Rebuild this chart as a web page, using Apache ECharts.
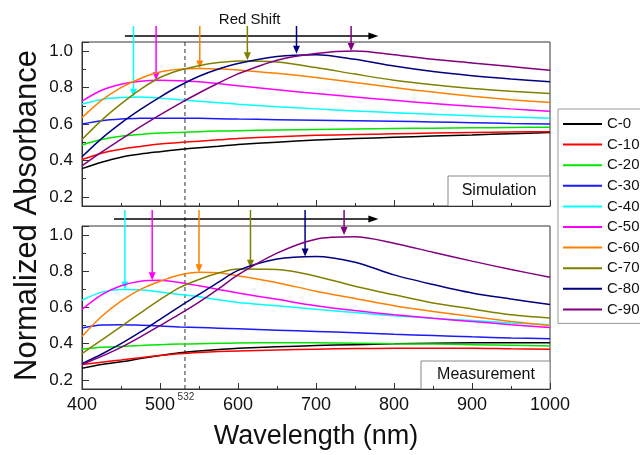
<!DOCTYPE html>
<html>
<head>
<meta charset="utf-8">
<script src="https://cdn.jsdelivr.net/npm/echarts@6/dist/echarts.min.js"></script>
<style>
html,body{margin:0;padding:0;background:#fff;}
#main{width:640px;height:455px;}
</style>
</head>
<body>
<div id="main"></div>
<script>
// 波长 (nm)
var wavelength=[400,425,450,475,500,525,550,575,600,650,700,750,800,850,900,950,1000];
var names=['C-0','C-10','C-20','C-30','C-40','C-50','C-60','C-70','C-80','C-90'];
var colors=['#000000','#ff0000','#00e600','#1a1aff','#00ffff','#ff00ff','#ff8000','#808000','#000080','#800080'];

// Simulation
var simC0 =[.355,.39,.418,.435,.448,.46,.47,.478,.487,.50,.512,.52,.527,.534,.54,.547,.553];
var simC10=[.405,.44,.462,.477,.49,.498,.506,.513,.52,.53,.538,.542,.546,.55,.553,.556,.558];
var simC20=[.485,.515,.533,.543,.55,.554,.558,.561,.563,.567,.57,.573,.575,.577,.579,.581,.582];
var simC30=[.60,.618,.627,.631,.632,.632,.631,.629,.627,.624,.621,.618,.615,.611,.607,.603,.60];
var simC40=[.71,.735,.745,.748,.742,.733,.725,.717,.708,.695,.683,.672,.662,.653,.645,.638,.632];
var simC50=[.725,.785,.818,.835,.84,.838,.832,.822,.81,.788,.767,.748,.73,.712,.697,.683,.67];
var simC60=[.635,.73,.80,.85,.885,.90,.905,.902,.897,.878,.855,.828,.80,.775,.752,.733,.718];
var simC70=[.515,.62,.71,.79,.855,.895,.92,.937,.946,.94,.91,.874,.84,.815,.795,.78,.768];
var simC80=[.42,.52,.605,.68,.748,.81,.862,.902,.932,.97,.98,.955,.918,.888,.865,.847,.832];
var simC90=[.37,.445,.515,.585,.65,.712,.77,.825,.875,.95,.987,1.0,.98,.955,.935,.915,.895];

// Measurement
var measC0 =[.265,.285,.30,.318,.335,.35,.36,.368,.375,.383,.39,.395,.40,.403,.405,.405,.405];
var measC10=[.285,.298,.31,.323,.335,.345,.352,.357,.36,.365,.37,.373,.375,.375,.375,.372,.37];
var measC20=[.37,.38,.385,.39,.395,.398,.40,.402,.404,.405,.405,.403,.40,.398,.395,.392,.388];
var measC30=[.487,.503,.505,.502,.498,.493,.49,.486,.482,.475,.468,.46,.452,.445,.438,.432,.427];
var measC40=[.64,.685,.70,.698,.685,.672,.66,.643,.628,.61,.59,.572,.555,.54,.528,.515,.505];
var measC50=[.59,.67,.72,.745,.75,.738,.72,.70,.68,.645,.61,.583,.56,.54,.523,.505,.49];
var measC60=[.44,.55,.635,.70,.745,.78,.795,.792,.775,.737,.69,.65,.61,.578,.55,.523,.50];
var measC70=[.345,.42,.495,.57,.643,.71,.755,.79,.812,.81,.773,.717,.67,.625,.592,.56,.542];
var measC80=[.29,.342,.40,.465,.535,.605,.672,.74,.805,.868,.882,.85,.78,.727,.68,.647,.616];
var measC90=[.285,.33,.38,.438,.50,.563,.63,.703,.78,.9,.977,.99,.955,.905,.856,.81,.767];

// 峰位箭头
var simPeakWl=[466,495,551,612,675,745];
var simPeakVal=[.75,.84,.905,.95,.985,1.0];
var measPeakWl=[455,490,550,616,686,736];
var measPeakVal=[.70,.75,.795,.82,.882,1.0];
var peakColorIdx=[4,5,6,7,8,9];
var simShift=[455,780];
var measShift=[441,780];
var markWl=532;

var simAll=[simC0,simC10,simC20,simC30,simC40,simC50,simC60,simC70,simC80,simC90];
var measAll=[measC0,measC10,measC20,measC30,measC40,measC50,measC60,measC70,measC80,measC90];

var font='Arial, "Liberation Sans", sans-serif';
var myChart=echarts.init(document.getElementById('main'));

function pairs(arr){
    var out=[];
    for(var i=0;i<wavelength.length;i++){
        out.push([wavelength[i],arr[i]]);
    }
    return out;
};

function xAxisOpt(idx,showLabel,name){
    return {
        type:'value',gridIndex:idx,min:400,max:1000,interval:100,
        axisLine:{show:true,onZero:false,lineStyle:{color:'#333',width:1}},
        axisTick:{show:true,inside:true,length:6,lineStyle:{color:'#333'}},
        minorTick:{show:true,splitNumber:2,length:3,lineStyle:{color:'#333'}},
        splitLine:{show:false},
        axisLabel:{show:showLabel,fontSize:18,color:'#111',margin:7,fontFamily:font,
            formatter:function(v){return String(v);}},
        name:name,nameLocation:'middle',nameGap:34,
        nameTextStyle:{fontSize:27,color:'#111',fontFamily:font}
    };
};
function yAxisOpt(idx){
    return {
        type:'value',gridIndex:idx,min:0.15,max:1.05,splitNumber:5,
        axisLine:{show:true,onZero:false,lineStyle:{color:'#333',width:1}},
        axisTick:{show:true,inside:true,length:7,lineStyle:{color:'#333'}},
        minorTick:{show:true,splitNumber:2,length:4,lineStyle:{color:'#333'}},
        splitLine:{show:false},
        axisLabel:{fontSize:17,color:'#111',margin:9,fontFamily:font,showMinLabel:false,showMaxLabel:false,
            formatter:function(v){return v.toFixed(1);}}
    };
};

var series=[];
for(var i=0;i<names.length;i++){
    series.push({name:names[i],type:'line',xAxisIndex:0,yAxisIndex:0,smooth:0.3,
        symbol:'none',showSymbol:false,
        data:pairs(simAll[i]),lineStyle:{color:colors[i],width:1.5},itemStyle:{color:colors[i]}});
}
for(var i=0;i<names.length;i++){
    series.push({name:names[i],type:'line',xAxisIndex:1,yAxisIndex:1,smooth:0.3,
        symbol:'none',showSymbol:false,
        data:pairs(measAll[i]),lineStyle:{color:colors[i],width:1.5},itemStyle:{color:colors[i]}});
}

var option={
    backgroundColor:'#fff',
    animation:false,
    grid:[
        {left:82,right:90,top:42,height:164,show:true,borderColor:'#333',borderWidth:1},
        {left:82,right:90,top:226,height:163,show:true,borderColor:'#333',borderWidth:1}
    ],
    xAxis:[xAxisOpt(0,false,''),xAxisOpt(1,true,'Wavelength (nm)')],
    yAxis:[yAxisOpt(0),yAxisOpt(1)],
    legend:{
        data:names,orient:'vertical',left:558,top:109,icon:'rect',
        padding:[7,30,6,5],itemWidth:39,itemHeight:2,itemGap:4.6,
        borderColor:'#999',borderWidth:1,backgroundColor:'#fff',
        textStyle:{fontSize:15,color:'#111',lineHeight:16,fontFamily:font}
    },
    series:series
};
myChart.setOption(option);

function arrowHead(x,y,dir,color,len,half){
    // dir: 'down' | 'right'
    var pts=dir=='down'?[[x-half,y-len],[x+half,y-len],[x,y]]:[[x-len,y-half],[x-len,y+half],[x,y]];
    return {type:'polygon',shape:{points:pts},style:{fill:color},silent:true};
};

function drawNotes(){
    var g=[];
    var p=function(gi,v){return myChart.convertToPixel({gridIndex:gi},v);};
    var top0=p(0,[400,1.05])[1], bot0=p(0,[400,0.15])[1];
    var top1=p(1,[400,1.05])[1], bot1=p(1,[400,0.15])[1];
    var right=p(0,[1000,0.15])[0];

    // 532 nm dashed line
    var xm=p(1,[markWl,0.5])[0];
    g.push({type:'line',shape:{x1:xm,y1:top0,x2:xm,y2:bot1},style:{stroke:'#333',lineWidth:1,lineDash:[4,3]},silent:true});
    g.push({type:'text',style:{text:String(markWl),x:xm+1,y:bot1+3,fill:'#333',font:'10px '+font,textAlign:'center',textVerticalAlign:'top'}});

    // red shift arrows
    var ys0=top0-6, ys1=top1-7;
    var xa=p(0,[simShift[0],0.5])[0], xb=p(0,[simShift[1],0.5])[0];
    g.push({type:'line',shape:{x1:xa,y1:ys0,x2:xb-8,y2:ys0},style:{stroke:'#000',lineWidth:1.5},silent:true});
    g.push(arrowHead(xb,ys0,'right','#000',10,3.5));
    var xc=p(1,[measShift[0],0.5])[0], xd=p(1,[measShift[1],0.5])[0];
    g.push({type:'line',shape:{x1:xc,y1:ys1,x2:xd-8,y2:ys1},style:{stroke:'#000',lineWidth:1.5},silent:true});
    g.push(arrowHead(xd,ys1,'right','#000',10,3.5));
    g.push({type:'text',style:{text:'Red Shift',x:(xa+xb)/2-2,y:ys0-16,fill:'#111',font:'15px '+font,textAlign:'center',textVerticalAlign:'middle'}});

    // peak arrows
    for(var i=0;i<simPeakWl.length;i++){
        var c=colors[peakColorIdx[i]];
        var pt=p(0,[simPeakWl[i],simPeakVal[i]]);
        g.push({type:'line',shape:{x1:pt[0],y1:top0-16,x2:pt[0],y2:pt[1]-6},style:{stroke:c,lineWidth:1.5},silent:true});
        g.push(arrowHead(pt[0],pt[1],'down',c,8,3.5));
    }
    for(var i=0;i<measPeakWl.length;i++){
        var c=colors[peakColorIdx[i]];
        var pt=p(1,[measPeakWl[i],measPeakVal[i]]);
        g.push({type:'line',shape:{x1:pt[0],y1:top1-16,x2:pt[0],y2:pt[1]-6},style:{stroke:c,lineWidth:1.5},silent:true});
        g.push(arrowHead(pt[0],pt[1],'down',c,8,3.5));
    }

    // panel tags
    g.push({type:'rect',shape:{x:right-102,y:bot0-30,width:102,height:30},style:{fill:'#fff',stroke:'#888',lineWidth:1}});
    g.push({type:'text',style:{text:'Simulation',x:right-51,y:bot0-15,fill:'#111',font:'16px '+font,textAlign:'center',textVerticalAlign:'middle'}});
    g.push({type:'rect',shape:{x:right-129,y:bot1-28,width:129,height:28},style:{fill:'#fff',stroke:'#888',lineWidth:1}});
    g.push({type:'text',style:{text:'Measurement',x:right-64,y:bot1-14,fill:'#111',font:'16px '+font,textAlign:'center',textVerticalAlign:'middle'}});

    // y title
    g.push({type:'text',x:27,y:(top0+bot1)/2,rotation:Math.PI/2,
        style:{text:'Normalized Absorbance',x:0,y:0,fill:'#111',font:'31px '+font,textAlign:'center',textVerticalAlign:'middle'}});

    myChart.setOption({graphic:g});
};
drawNotes();
</script>
</body>
</html>
